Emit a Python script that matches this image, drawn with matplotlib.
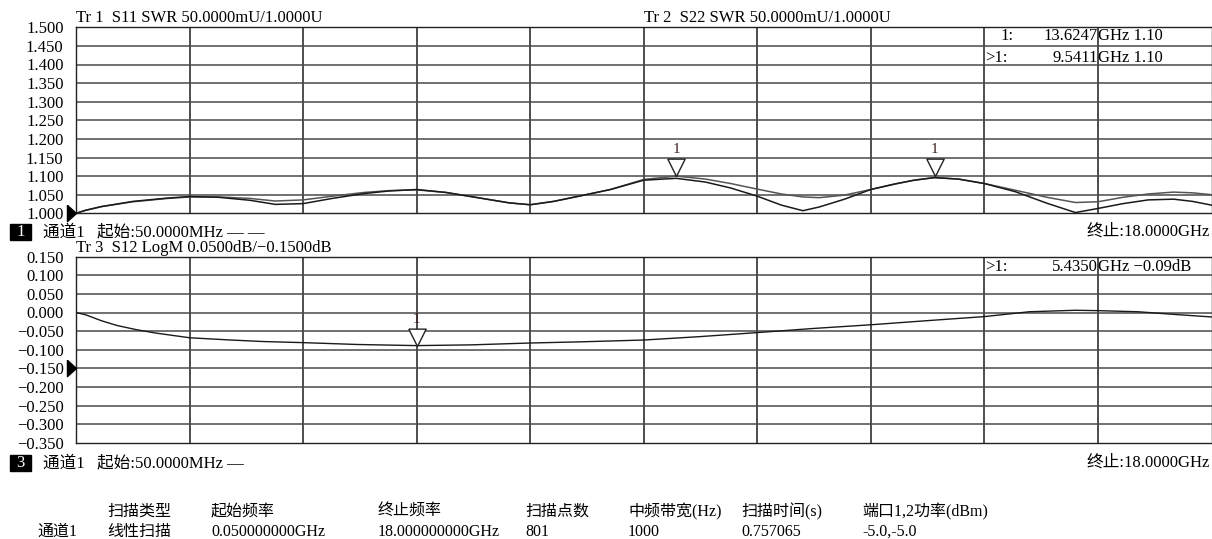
import numpy as np
import matplotlib
matplotlib.use('Agg')
import matplotlib.pyplot as plt
from matplotlib.patches import Rectangle
from matplotlib.ticker import FuncFormatter

W, H = 1212, 539

# SWR traces, GHz / U
swr_freq = [0.05, 0.2, 0.45, 0.95, 1.5, 1.85, 2.3, 2.8, 3.2, 3.64, 4.1, 4.6, 5.0, 5.435,
            5.9, 6.4, 6.9, 7.23, 7.6, 8.0, 8.5, 9.025, 9.54, 10.0, 10.4, 10.82, 11.2,
            11.54, 11.8, 12.2, 12.615, 13.0, 13.3, 13.62, 14.0, 14.41, 14.9, 15.4,
            15.85, 16.205, 16.6, 17.0, 17.4, 17.7, 18.0]
s11_swr = [1.000, 1.008, 1.018, 1.032, 1.041, 1.045, 1.043, 1.035, 1.024, 1.026, 1.040,
           1.053, 1.060, 1.064, 1.056, 1.042, 1.028, 1.023, 1.032, 1.046, 1.064, 1.089,
           1.094, 1.084, 1.068, 1.046, 1.022, 1.007, 1.017, 1.038, 1.064, 1.079, 1.089,
           1.096, 1.092, 1.080, 1.058, 1.027, 1.002, 1.013, 1.026, 1.036, 1.038, 1.032,
           1.022]
s22_swr = [1.000, 1.008, 1.018, 1.031, 1.040, 1.044, 1.044, 1.040, 1.033, 1.036, 1.046,
           1.056, 1.061, 1.063, 1.056, 1.042, 1.028, 1.023, 1.032, 1.046, 1.064, 1.091,
           1.100, 1.092, 1.080, 1.065, 1.052, 1.044, 1.042, 1.049, 1.064, 1.079, 1.089,
           1.096, 1.092, 1.080, 1.062, 1.043, 1.029, 1.031, 1.043, 1.052, 1.057, 1.055,
           1.050]

# S12 LogM trace, GHz / dB
s12_freq = [0.05, 0.2, 0.45, 0.7, 1.0, 1.3, 1.85, 2.5, 3.0, 3.64, 4.5, 5.435, 6.3, 7.23,
            8.0, 9.025, 9.9, 10.82, 11.7, 12.615, 13.5, 14.41, 15.12, 15.85, 16.2, 16.84,
            17.4, 18.0]
s12_db = [0.000, -0.006, -0.022, -0.035, -0.046, -0.055, -0.068, -0.074, -0.078, -0.081,
          -0.086, -0.089, -0.087, -0.082, -0.079, -0.074, -0.065, -0.054, -0.043, -0.033,
          -0.022, -0.011, 0.002, 0.006, 0.005, 0.002, -0.005, -0.012]

# markers
swr_mk_freq = [13.6247, 9.5411]
swr_mk_val = [1.10, 1.10]
s12_mk_freq = [5.4350]
s12_mk_val = [-0.09]

f_start, f_stop = 0.05, 18.0

table_head = ['扫描类型', '起始频率', '终止频率', '扫描点数', '中频带宽(Hz)', '扫描时间(s)', '端口1,2功率(dBm)']
table_row = ['线性扫描', '0.050000000GHz', '18.000000000GHz', '801', '1000', '0.757065', '-5.0,-5.0']
table_x = [107, 211, 378, 525, 628, 741, 862]

plt.rcParams['font.family'] = ['Liberation Serif', 'Noto Sans CJK SC']
plt.rcParams['font.size'] = 12
plt.rcParams['axes.unicode_minus'] = True

fig = plt.figure(figsize=(W / 100, H / 100), dpi=100)


def fx(x):
    return x / W


def fy(y):
    return 1 - y / H


def px_text(x, y, s, **kw):
    fig.text(fx(x), fy(y), s, va='center', **kw)


tip_down = [(-0.5, 1.0), (0.5, 1.0), (0.0, 0.0), (-0.5, 1.0)]
ref_arrow = [(-1.0, 0.9), (0.0, 0.0), (-1.0, -0.9), (-1.0, 0.9)]


def setup(ax, ylo, yhi, fmt):
    ax.set_xlim(f_start, f_stop)
    ax.set_ylim(ylo, yhi)
    xt = np.linspace(f_start, f_stop, 11)
    yt = np.linspace(ylo, yhi, 11)
    for x in xt[1:-1]:
        ax.axvline(x, color='#1e1e1e', lw=1.1, zorder=1)
    for y in yt[1:-1]:
        ax.axhline(y, color='#4a4a4a', lw=1.1, zorder=1)
    ax.set_xticks([])
    ax.set_yticks(yt)
    ax.yaxis.set_major_formatter(FuncFormatter(lambda v, p: fmt(v)))
    ax.tick_params(axis='y', length=0, pad=9, labelsize=12)
    for s in ax.spines.values():
        s.set_color('#222222')
        s.set_linewidth(1.0)


def fmt3(v):
    return ('%.3f' % v).replace('-', '\u2212')


ax1 = fig.add_axes([fx(76), fy(213.3), fx(1211.5 - 76), (213.3 - 27.3) / H])
setup(ax1, 1.0, 1.5, fmt3)
ax1.plot(swr_freq, s22_swr, color='#555555', lw=1.1, zorder=3)
ax1.plot(swr_freq, s11_swr, color='#1a1a1a', lw=1.1, zorder=4)
ax1.plot(swr_mk_freq, swr_mk_val, ls='none', marker=tip_down, ms=25,
         mfc='white', mec='#222222', mew=1.0, zorder=5)
for f, v in zip(swr_mk_freq, swr_mk_val):
    ax1.annotate('1', (f, v), xytext=(0, 19), textcoords='offset points',
                 ha='center', va='center', fontsize=11, color='#3a2020')
ax1.plot([f_start], [1.0], ls='none', marker=ref_arrow, ms=13, color='black',
         clip_on=False, zorder=6)

ax2 = fig.add_axes([fx(76), fy(442.7), fx(1211.5 - 76), (442.7 - 256.7) / H])
setup(ax2, -0.35, 0.15, fmt3)
ax2.plot(s12_freq, s12_db, color='#1a1a1a', lw=1.0, zorder=3)
ax2.plot(s12_mk_freq, s12_mk_val, ls='none', marker=tip_down, ms=25,
         mfc='white', mec='#222222', mew=1.0, zorder=5)
for f, v in zip(s12_mk_freq, s12_mk_val):
    ax2.annotate('1', (f, v), xytext=(0, 19), textcoords='offset points',
                 ha='center', va='center', fontsize=11, color='#3a2020')
ax2.plot([f_start], [-0.15], ls='none', marker=ref_arrow, ms=13, color='black',
         clip_on=False, zorder=6)

# trace titles
px_text(76, 18, 'Tr 1  S11 SWR 50.0000mU/1.0000U')
px_text(644, 18, 'Tr 2  S22 SWR 50.0000mU/1.0000U')
px_text(76, 248, 'Tr 3  S12 LogM 0.0500dB/\u22120.1500dB')

# marker readouts
labels = ['1:', '>1:']
lab_x = [1000, 985]
for i, (f, v) in enumerate(zip(swr_mk_freq, swr_mk_val)):
    y = 36 + 22 * i
    px_text(lab_x[i], y, labels[i])
    px_text(1098, y, '%.4f' % f, ha='right')
    px_text(1098, y, 'GHz %.2f' % v)
for f, v in zip(s12_mk_freq, s12_mk_val):
    px_text(985, 267, '>1:')
    px_text(1098, 267, '%.4f' % f, ha='right')
    px_text(1098, 267, ('GHz %.2fdB' % v).replace('-', '\u2212'))

# channel footers
for num, y, dash in [('1', 232, '— —'), ('3', 463, '—')]:
    fig.patches.append(Rectangle((fx(10), fy(y + 8)), fx(21), 16 / H, color='black',
                                 transform=fig.transFigure, figure=fig))
    px_text(20.5, y, num, color='white', fontsize=12, ha='center')
    px_text(43, y, '通道1   起始:%.4fMHz %s' % (f_start * 1000, dash))
    px_text(1210, y, '终止:%.4fGHz' % f_stop, ha='right')

# sweep table
for x, s in zip(table_x, table_head):
    px_text(x, 512, s, fontsize=11.5)
px_text(37, 532, '通道1', fontsize=11.5)
for x, s in zip(table_x, table_row):
    px_text(x, 532, s, fontsize=11.5)

fig.savefig('out.png', dpi=100)
